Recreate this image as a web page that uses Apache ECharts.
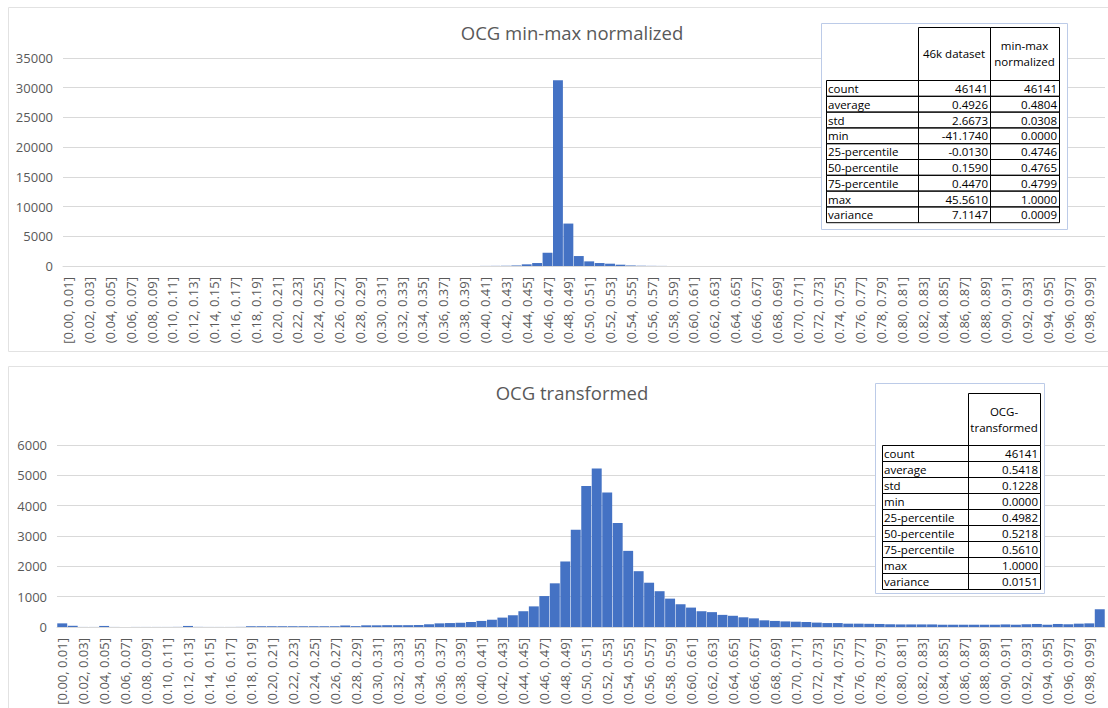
<!DOCTYPE html>
<html>
<head>
<meta charset="utf-8">
<title>OCG histograms</title>
<script src="https://cdn.jsdelivr.net/npm/echarts@6/dist/echarts.min.js"></script>
<style>
  html, body { margin: 0; padding: 0; background: #ffffff; }
  #main { width: 1108px; height: 708px; }
</style>
</head>
<body>
<div id="main"></div>
<script>
// 100 bins of width 0.01, first one closed on the left
var binLabels = [];
for (var i = 0; i < 100; i++) {
  var lo = (i / 100).toFixed(2);
  var hi = ((i + 1) / 100).toFixed(2);
  binLabels.push((i === 0 ? '[' : '(') + lo + ', ' + hi + ']');
}

// top chart: OCG min-max normalized (counts per bin)
var minMaxCounts = [
  0, 0, 0, 0, 0, 0, 0, 0, 0, 0,
  0, 0, 0, 0, 0, 0, 0, 0, 0, 0,
  0, 0, 0, 0, 0, 0, 0, 0, 0, 0,
  0, 0, 0, 0, 0, 0, 0, 0, 0, 0,
  15, 25, 40, 90, 280, 500, 2230, 31260, 7140, 1675,
  780, 500, 390, 220, 90, 45, 25, 15, 0, 0,
  0, 0, 0, 0, 0, 0, 0, 0, 0, 0,
  0, 0, 0, 0, 0, 0, 0, 0, 0, 0,
  0, 0, 0, 0, 0, 0, 0, 0, 0, 0,
  0, 0, 0, 0, 0, 0, 0, 0, 0, 0
];

// bottom chart: OCG transformed (counts per bin)
var transformedCounts = [
  120, 40, 2, 2, 35, 2, 2, 2, 2, 2,
  2, 4, 35, 4, 2, 2, 2, 4, 25, 25,
  25, 25, 25, 25, 25, 25, 25, 50, 28, 55,
  55, 60, 60, 60, 65, 90, 120, 130, 140, 165,
  200, 240, 310, 385, 520, 680, 1020, 1440, 2160, 3210,
  4650, 5225, 4430, 3430, 2510, 1840, 1460, 1180, 935, 750,
  640, 520, 490, 400, 370, 320, 285, 220, 200, 185,
  175, 165, 145, 130, 130, 110, 110, 105, 100, 90,
  85, 85, 85, 85, 75, 75, 75, 75, 75, 75,
  85, 75, 90, 100, 75, 100, 90, 110, 120, 585
];

// y axis ticks
var topTicks = { min: 0, max: 35000, step: 5000 };
var bottomTicks = { min: 0, max: 6000, step: 1000 };

// summary tables
var statNames = ['count', 'average', 'std', 'min', '25-percentile', '50-percentile', '75-percentile', 'max', 'variance'];
var stats46k = ['46141', '0.4926', '2.6673', '-41.1740', '-0.0130', '0.1590', '0.4470', '45.5610', '7.1147'];
var statsMinMax = ['46141', '0.4804', '0.0308', '0.0000', '0.4746', '0.4765', '0.4799', '1.0000', '0.0009'];
var statsTransformed = ['46141', '0.5418', '0.1228', '0.0000', '0.4982', '0.5218', '0.5610', '1.0000', '0.0151'];

var FONT = '"Open Sans", "Liberation Sans", sans-serif';
var GREY = '#595959';
var LINE = '#d9d9d9';

// builds the little stat table as graphic elements
function buildTable(box, cols, headTop, headBottom, rowH, headers, columns) {
  var els = [];
  els.push({
    type: 'rect', z: 100,
    shape: { x: box[0] + 0.5, y: box[1] + 0.5, width: box[2], height: box[3] },
    style: { fill: '#ffffff', stroke: '#bccbe8', lineWidth: 1 }
  });
  // header cells (no cell above the names column)
  for (var c = 1; c < cols.length - 1; c++) {
    els.push({
      type: 'rect', z: 101,
      shape: { x: cols[c] + 0.5, y: headTop + 0.5, width: cols[c + 1] - cols[c], height: headBottom - headTop },
      style: { fill: 'none', stroke: '#000000', lineWidth: 1 }
    });
    els.push({
      type: 'text', z: 102,
      x: (cols[c] + cols[c + 1]) / 2, y: (headTop + headBottom) / 2,
      style: {
        text: headers[c - 1], font: '11.5px ' + FONT, fill: '#000000', lineHeight: 16,
        align: 'center', verticalAlign: 'middle', textAlign: 'center', textVerticalAlign: 'middle'
      }
    });
  }
  // data rows
  for (var r = 0; r < columns[0].length; r++) {
    var y = headBottom + r * rowH;
    for (var k = 0; k < cols.length - 1; k++) {
      els.push({
        type: 'rect', z: 101,
        shape: { x: cols[k] + 0.5, y: y + 0.5, width: cols[k + 1] - cols[k], height: rowH },
        style: { fill: 'none', stroke: '#000000', lineWidth: 1 }
      });
      var left = k === 0;
      els.push({
        type: 'text', z: 102,
        x: left ? cols[k] + 2 : cols[k + 1] - 2, y: y + rowH / 2 + 0.5,
        style: {
          text: columns[k][r], font: '11.5px ' + FONT, fill: '#000000',
          align: left ? 'left' : 'right', verticalAlign: 'middle',
          textAlign: left ? 'left' : 'right', textVerticalAlign: 'middle'
        }
      });
    }
  }
  return els;
}

function xAxisFor(gridIndex) {
  return {
    type: 'category', gridIndex: gridIndex, data: binLabels,
    axisTick: { show: false },
    axisLine: { lineStyle: { color: LINE } },
    axisLabel: { interval: 1, rotate: 90, color: GREY, fontSize: 13, fontFamily: FONT, margin: 11 }
  };
}

function yAxisFor(gridIndex, ticks) {
  return {
    type: 'value', gridIndex: gridIndex,
    min: ticks.min, max: ticks.max, interval: ticks.step,
    axisLine: { show: false },
    axisTick: { show: false },
    splitLine: { lineStyle: { color: LINE } },
    axisLabel: {
      color: GREY, fontSize: 13, fontFamily: FONT, margin: 10,
      formatter: function (v) { return String(v); } // no thousands separator
    }
  };
}

var graphics = [
  // chart panel frames
  { type: 'rect', z: -1, shape: { x: 8.5, y: 7.5, width: 1120, height: 344 }, style: { fill: 'none', stroke: '#e2e2e2', lineWidth: 1 } },
  { type: 'rect', z: -1, shape: { x: 8.5, y: 366.5, width: 1120, height: 400 }, style: { fill: 'none', stroke: '#e2e2e2', lineWidth: 1 } }
];
graphics = graphics.concat(buildTable(
  [821, 23, 246, 206], [826, 918, 990, 1059], 27, 80, 15.8,
  ['46k dataset', 'min-max\nnormalized'], [statNames, stats46k, statsMinMax]
));
graphics = graphics.concat(buildTable(
  [875, 383, 169, 210], [882, 968, 1040], 393, 445, 16,
  ['OCG-\ntransformed'], [statNames, statsTransformed]
));

var chart = echarts.init(document.getElementById('main'), null, { renderer: 'svg' });
chart.setOption({
  animation: false,
  backgroundColor: '#ffffff',
  title: [
    { text: 'OCG min-max normalized', left: 567, top: 18, textAlign: 'center',
      textStyle: { color: GREY, fontSize: 18.5, fontWeight: 'normal', fontFamily: FONT } },
    { text: 'OCG transformed', left: 567, top: 378, textAlign: 'center',
      textStyle: { color: GREY, fontSize: 18.5, fontWeight: 'normal', fontFamily: FONT } }
  ],
  grid: [
    { left: 63, right: 3, top: 58, height: 208 },
    { left: 57, right: 3, top: 445, height: 182 }
  ],
  xAxis: [xAxisFor(0), xAxisFor(1)],
  yAxis: [yAxisFor(0, topTicks), yAxisFor(1, bottomTicks)],
  series: [
    { name: 'min-max normalized', type: 'bar', xAxisIndex: 0, yAxisIndex: 0,
      data: minMaxCounts, barCategoryGap: '5%', itemStyle: { color: '#4472C4' } },
    { name: 'OCG-transformed', type: 'bar', xAxisIndex: 1, yAxisIndex: 1,
      data: transformedCounts, barCategoryGap: '5%', itemStyle: { color: '#4472C4' } }
  ],
  graphic: graphics
});
</script>
</body>
</html>
